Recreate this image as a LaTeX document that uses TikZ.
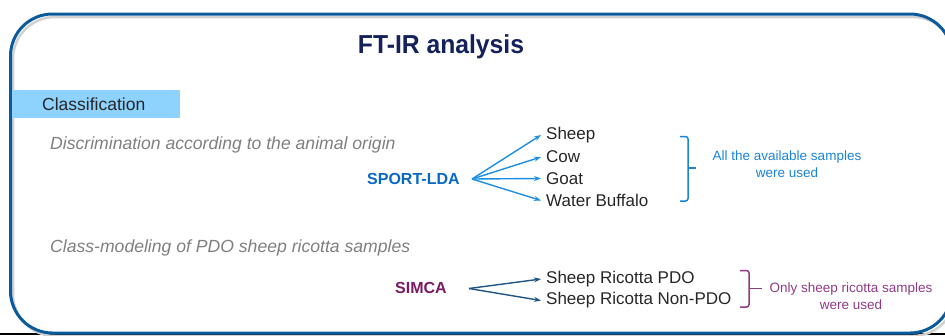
\documentclass[tikz,border=0pt]{standalone}
\usepackage{fontspec}
\setmainfont{Liberation Sans}
\usetikzlibrary{arrows.meta}
\definecolor{framec}{HTML}{0A5A9C}
\definecolor{titlec}{HTML}{14215A}
\definecolor{tabc}{HTML}{8ED3FD}
\definecolor{greyc}{HTML}{7F7F7F}
\definecolor{sportc}{HTML}{0868C4}
\definecolor{arrowa}{HTML}{1C8FE3}
\definecolor{simcac}{HTML}{7A1A62}
\definecolor{arrowb}{HTML}{1F5484}
\definecolor{notea}{HTML}{1A84D8}
\definecolor{noteb}{HTML}{8E3A86}
\definecolor{baseline}{HTML}{C2E4F4}
\tikzset{
  heading/.style={font=\fontsize{26}{30}\selectfont\bfseries, text=titlec, inner sep=0},
  subtitle/.style={font=\fontsize{17.6}{21}\selectfont\itshape, text=greyc, anchor=west, inner sep=0},
  method/.style={font=\fontsize{16}{19}\selectfont\bfseries, anchor=west, inner sep=0},
  item/.style={font=\fontsize{17}{20}\selectfont, text=black!85, anchor=west, inner sep=0},
  note/.style={font=\fontsize{13.5}{17}\selectfont, align=center, inner sep=0},
  forka/.style={draw=arrowa, line width=1.4pt, -{Stealth[length=7pt,width=5pt]}},
  forkb/.style={draw=arrowb, line width=1.4pt, -{Stealth[length=7pt,width=5pt]}},
  bracket/.style={line width=1.5pt, rounded corners=2.5pt},
}
\begin{document}
\begin{tikzpicture}[x=1pt,y=-1pt]
\useasboundingbox (0,0) rectangle (945,335);
\begin{scope}
\clip (0,0) rectangle (945,335);
% pale line along the lower edge
\draw[baseline, line width=1.5pt] (0,334.2) -- (945,334.2);
% soft shadow of the frame
\draw[black!18, line width=2.5pt, rounded corners=42pt] (13,17) rectangle (955,336);
% rounded frame
\draw[framec, line width=3pt, rounded corners=42pt] (10.5,14) rectangle (952,333);
\end{scope}

% title
\node[heading] (title) at (441,47) {\scalebox{0.95}[1]{FT-IR analysis}};

% section tab
\fill[tabc] (12,90) rectangle (180,118);
\node[font=\fontsize{17.5}{20}\selectfont, text=black!85, anchor=west, inner sep=0] (tab) at (42,104) {Classification};

% first task
\node[subtitle] (sub1) at (50,145) {Discrimination according to the animal origin};
\node[method, text=sportc] (sport) at (367,179) {SPORT-LDA};
\coordinate (fa) at (472,179);
\node[item] (sheep) at (546,135) {Sheep};
\node[item] (cow) at (546,157) {Cow};
\node[item] (goat) at (546,178.5) {Goat};
\node[item] (buff) at (546,200.5) {Water Buffalo};
\foreach \t in {sheep,cow,goat,buff}
  \draw[forka] (fa) -- ([xshift=-5pt]\t.west);

% bracket and note for the first task
\coordinate (ba1) at (680,136.5);
\coordinate (ba2) at (680,201);
\coordinate (bam) at (696,168);
\draw[notea, bracket] (ba1) -- (688,136.5) -- (688,201) -- (ba2);
\draw[notea, line width=1.5pt] (688,168) -- (bam);
\node[note, text=notea] (n1) at (787,164) {All the available samples\\were used};

% second task
\node[subtitle] (sub2) at (50,248) {Class-modeling of PDO sheep ricotta samples};
\node[method, text=simcac] (simca) at (395,287.5) {SIMCA};
\coordinate (fb) at (469,288.5);
\node[item] (pdo) at (546,279) {Sheep Ricotta PDO};
\node[item] (npdo) at (546,300.5) {Sheep Ricotta Non-PDO};
\foreach \t in {pdo,npdo}
  \draw[forkb] (fb) -- ([xshift=-5pt]\t.west);

% bracket and note for the second task
\coordinate (bb1) at (740,270.5);
\coordinate (bb2) at (740,307);
\coordinate (bbm) at (762,288.5);
\draw[noteb, bracket] (bb1) -- (749,270.5) -- (749,307) -- (bb2);
\draw[noteb, line width=1.5pt] (749,288.5) -- (bbm);
\node[note, text=noteb] (n2) at (851,296) {Only sheep ricotta samples\\were used};
\end{tikzpicture}
\end{document}
